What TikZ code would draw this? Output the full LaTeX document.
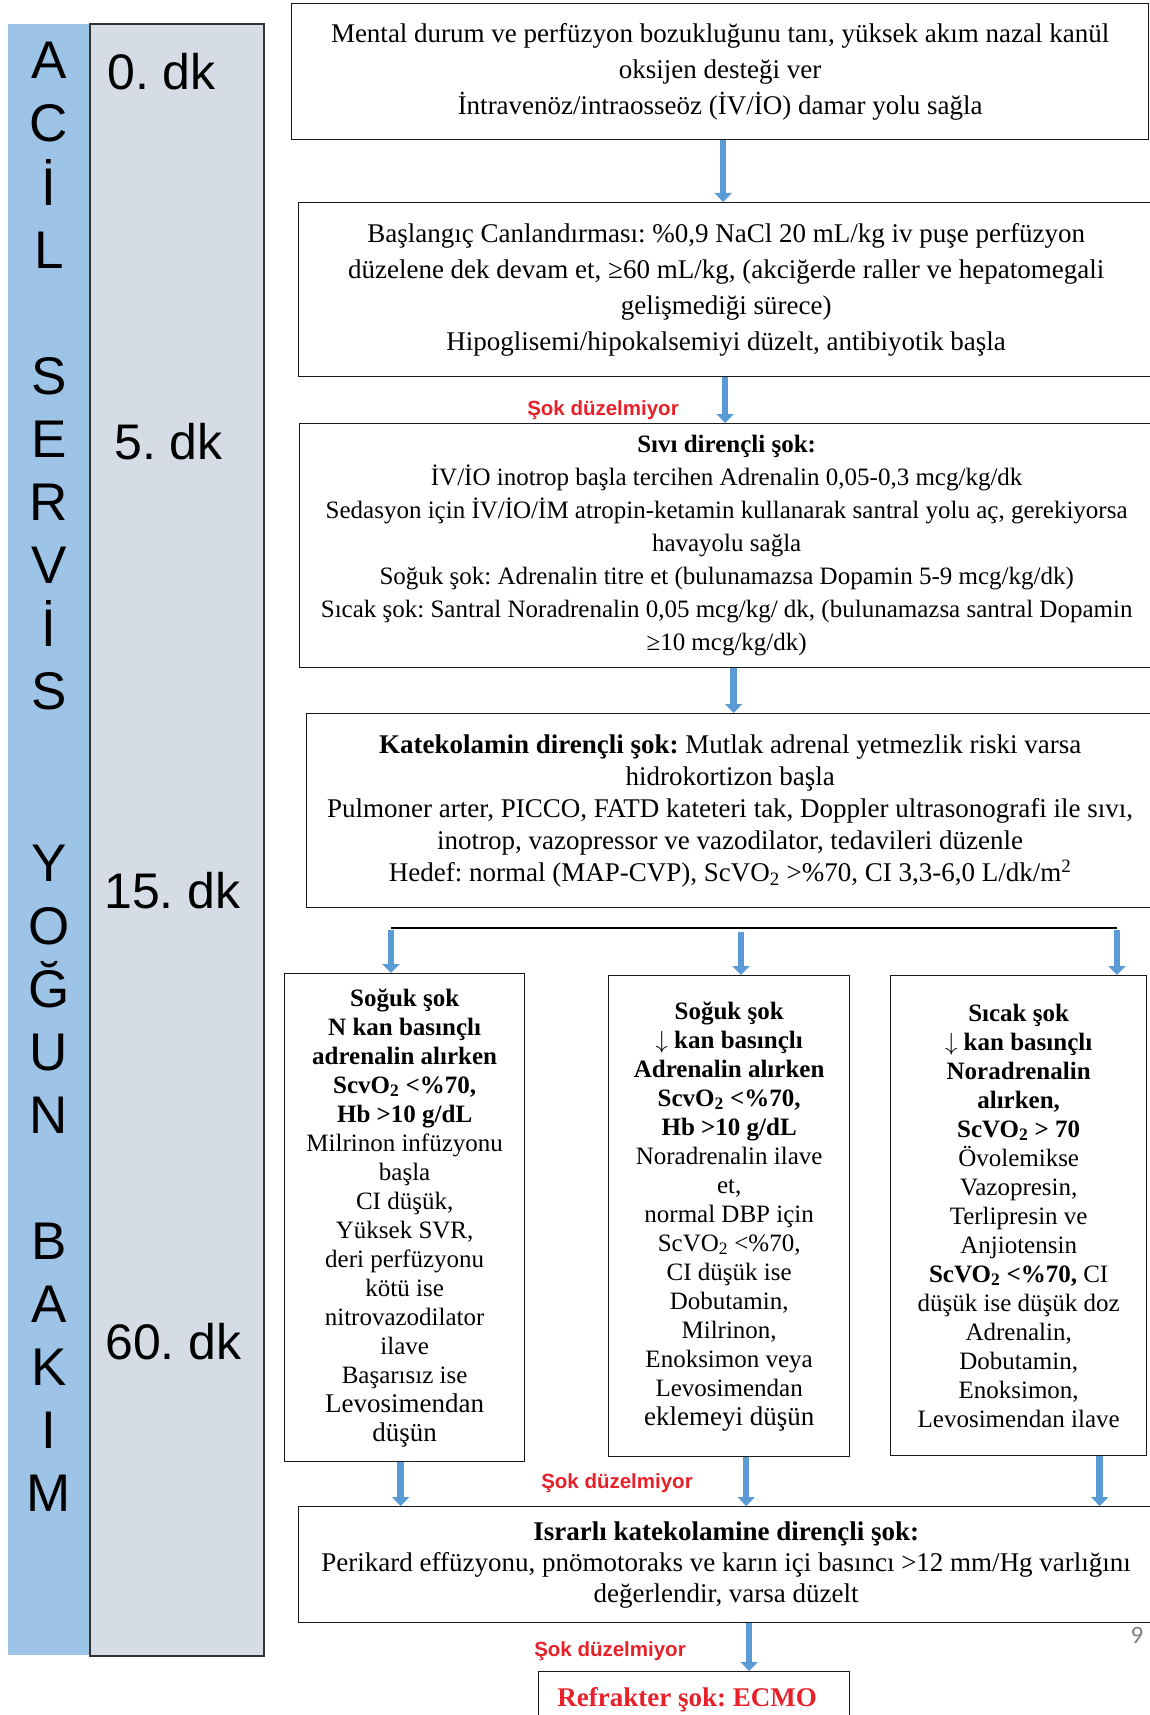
\documentclass[tikz,border=0pt]{standalone}
\usepackage{fontspec}
\setmainfont{Liberation Serif}
\newfontfamily\arialfont{Liberation Sans}
\newfontfamily\sayfafont{Carlito}
\usetikzlibrary{arrows.meta,positioning}
\definecolor{SeritMavi}{HTML}{9DC3E6}
\definecolor{SutunGri}{HTML}{D6DCE5}
\definecolor{OkMavi}{HTML}{5B9BD5}
\definecolor{UyariKirmizi}{HTML}{E8202A}
\definecolor{SayfaGri}{HTML}{7F7F7F}
\tikzset{
  akis/.style={rectangle,draw=black!90,line width=1.3pt,anchor=north west,
               align=center,inner sep=2pt,font=\fontsize{25}{31}\selectfont},
  harf/.style={font=\arialfont\fontsize{53}{53}\selectfont,text height=38pt,text depth=0pt,inner sep=0pt},
  sure/.style={font=\arialfont\fontsize{50}{50}\selectfont,anchor=base west,inner sep=0pt},
  uyari/.style={font=\arialfont\bfseries\fontsize{20.5}{20.5}\selectfont,text=UyariKirmizi,inner sep=0pt},
  arr/.style={-{Triangle[width=17pt,length=9pt]},line width=6.5pt,draw=OkMavi},
}

\begin{document}
\frenchspacing
\begin{tikzpicture}[x=1pt,y=-1pt]
  \useasboundingbox (0,0) rectangle (1150,1715);
  \clip (0,0) rectangle (1150,1715);

  % zaman seridi
  \fill[SeritMavi] (8,24) rectangle (90,1655);
  \draw[fill=SutunGri,draw=black!80,line width=1.3pt] (90,24) rectangle (264,1656);
  \foreach \ch/\yy in {A/60,C/123,İ/186,L/249,S/375,E/438,R/501,V/564,İ/627,S/690,
                       Y/862,O/925,Ğ/988,U/1051,N/1114,B/1240,A/1303,K/1366,I/1429,M/1492}
    \node[harf] (h\yy) at (49,\yy) {\ch};

  \node[sure] (dk0)  at (107,90)   {0. dk};
  \node[sure] (dk5)  at (114,459)  {5. dk};
  \node[sure] (dk15) at (104,908)  {15. dk};
  \node[sure] (dk60) at (105,1359) {60. dk};

  % akis kutulari
  \node[akis,minimum width=857pt,minimum height=136pt,font=\fontsize{27}{36}\selectfont] (mental) at (291,3)
    {Mental durum ve perfüzyon bozukluğunu tanı, yüksek akım nazal kanül\\
     oksijen desteği ver\\
     İntravenöz/intraosseöz (İV/İO) damar yolu sağla};
  \node[akis,minimum width=855pt,minimum height=174pt,font=\fontsize{27}{36}\selectfont] (canlandirma) at (298,202)
    {Başlangıç Canlandırması: \%0,9 NaCl 20 mL/kg iv puşe perfüzyon\\
     düzelene dek devam et, ≥60 mL/kg, (akciğerde raller ve hepatomegali\\
     gelişmediği sürece)\\
     Hipoglisemi/hipokalsemiyi düzelt, antibiyotik başla};
  \node[akis,minimum width=854pt,minimum height=244pt,font=\fontsize{25}{33}\selectfont] (sivi) at (299,423)
    {\textbf{Sıvı dirençli şok:}\\
     İV/İO inotrop başla tercihen Adrenalin 0,05-0,3 mcg/kg/dk\\
     Sedasyon için İV/İO/İM atropin-ketamin kullanarak santral yolu aç, gerekiyorsa\\
     havayolu sağla\\
     Soğuk şok: Adrenalin titre et (bulunamazsa Dopamin 5-9 mcg/kg/dk)\\
     Sıcak şok: Santral Noradrenalin 0,05 mcg/kg/ dk, (bulunamazsa santral Dopamin\\
     ≥10 mcg/kg/dk)};
  \node[akis,minimum width=847pt,minimum height=194pt,font=\fontsize{27}{32}\selectfont] (katekolamin) at (306,713)
    {\textbf{Katekolamin dirençli şok:} Mutlak adrenal yetmezlik riski varsa\\
     hidrokortizon başla\\
     Pulmoner arter, PICCO, FATD kateteri tak, Doppler ultrasonografi ile sıvı,\\
     inotrop, vazopressor ve vazodilator, tedavileri düzenle\\
     Hedef: normal (MAP-CVP), ScVO\textsubscript{2} >\%70, CI 3,3-6,0 L/dk/m\textsuperscript{2}};

  \coordinate (dalL) at (391,928);
  \coordinate (dalM) at (741,928);
  \coordinate (dalR) at (1117,928);
  \draw[line width=1.3pt] (dalL) -- (dalR);

  \node[akis,minimum width=240pt,minimum height=488pt,font=\fontsize{25}{29}\selectfont] (soguk1) at (284,973)
    {\textbf{Soğuk şok}\\ \textbf{N kan basınçlı}\\ \textbf{adrenalin alırken}\\
     \textbf{ScvO\textsubscript{2} <\%70,}\\ \textbf{Hb >10 g/dL}\\
     Milrinon infüzyonu\\ başla\\ CI düşük,\\ Yüksek SVR,\\ deri perfüzyonu\\ kötü ise\\
     nitrovazodilator\\ ilave\\ Başarısız ise\\
     {\fontsize{27}{30}\selectfont Levosimendan}\\ {\fontsize{27}{30}\selectfont düşün}};
  \node[akis,minimum width=241pt,minimum height=481pt,font=\fontsize{25}{29}\selectfont] (soguk2) at (608,975)
    {\textbf{Soğuk şok}\\ \textbf{$\downarrow$ kan basınçlı}\\ \textbf{Adrenalin alırken}\\
     \textbf{ScvO\textsubscript{2} <\%70,}\\ \textbf{Hb >10 g/dL}\\
     Noradrenalin ilave\\ et,\\ normal DBP için\\ ScVO\textsubscript{2} <\%70,\\ CI düşük ise\\
     Dobutamin,\\ Milrinon,\\ Enoksimon veya\\ Levosimendan\\
     {\fontsize{27}{30}\selectfont eklemeyi düşün}};
  \node[akis,minimum width=256pt,minimum height=480pt,font=\fontsize{25}{29}\selectfont] (sicak) at (890,975)
    {\textbf{Sıcak şok}\\ \textbf{$\downarrow$ kan basınçlı}\\ \textbf{Noradrenalin}\\
     \textbf{alırken,}\\ \textbf{ScVO\textsubscript{2} > 70}\\
     Övolemikse\\ Vazopresin,\\ Terlipresin ve\\ Anjiotensin\\
     \textbf{ScVO\textsubscript{2} <\%70,} CI\\ düşük ise düşük doz\\
     Adrenalin,\\ Dobutamin,\\ Enoksimon,\\ Levosimendan ilave};

  \node[akis,minimum width=855pt,minimum height=116pt,font=\fontsize{27}{31}\selectfont] (israrli) at (298,1506)
    {\textbf{Israrlı katekolamine dirençli şok:}\\
     Perikard effüzyonu, pnömotoraks ve karın içi basıncı >12 mm/Hg varlığını\\
     değerlendir, varsa düzelt};
  \node[akis,minimum width=311pt,minimum height=56pt,text=UyariKirmizi,font=\bfseries\fontsize{27}{30}\selectfont] (ecmo) at (538,1671)
    {Refrakter şok: ECMO\hspace*{14pt}};

  \node[uyari] (uyari1) at (603,410)  {Şok düzelmiyor};
  \node[uyari] (uyari2) at (617,1483) {Şok düzelmiyor};
  \node[uyari] (uyari3) at (610,1651) {Şok düzelmiyor};
  \node[font=\sayfafont\fontsize{25}{25}\selectfont,text=SayfaGri,inner sep=0pt] (sayfa) at (1137,1635) {9};

  % oklar
  \draw[arr] ([xshift=3pt]mental.south) -- ([xshift=3pt]mental.south |- canlandirma.north);
  \draw[arr] ([xshift=-1pt]canlandirma.south) -- ([xshift=-1pt]canlandirma.south |- sivi.north);
  \draw[arr] ([xshift=7pt]sivi.south) -- ([xshift=7pt]sivi.south |- katekolamin.north);
  \draw[arr] ([yshift=-2pt]dalL) -- (dalL |- soguk1.north);
  \draw[arr] ([yshift=-4pt]dalM) -- (dalM |- soguk2.north);
  \draw[arr] ([yshift=-2pt]dalR) -- (dalR |- sicak.north);
  \draw[arr] ([xshift=-4pt]soguk1.south) -- ([xshift=-4pt]soguk1.south |- israrli.north);
  \draw[arr] ([xshift=17pt]soguk2.south) -- ([xshift=17pt]soguk2.south |- israrli.north);
  \draw[arr] ([xshift=81pt]sicak.south) -- ([xshift=81pt]sicak.south |- israrli.north);
  \draw[arr] ([xshift=23pt]israrli.south) -- ([xshift=23pt]israrli.south |- ecmo.north);
\end{tikzpicture}
\end{document}
